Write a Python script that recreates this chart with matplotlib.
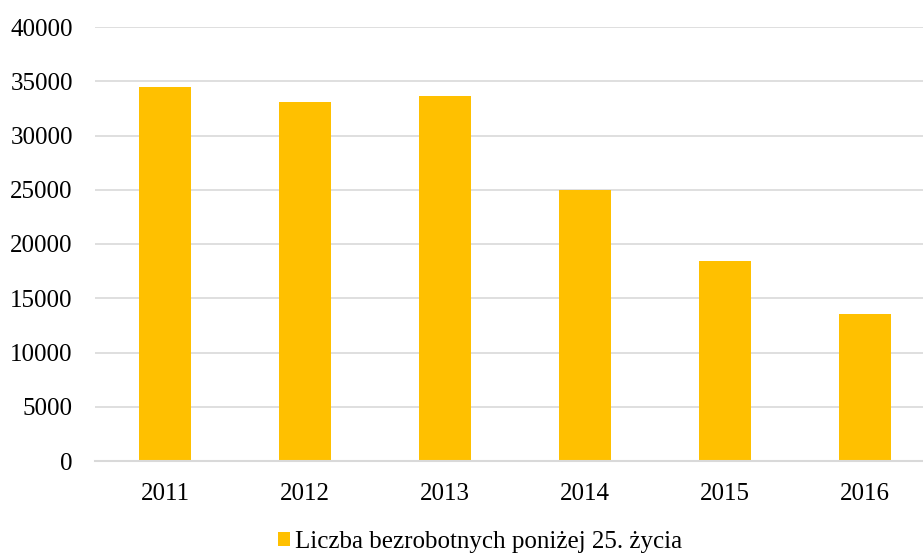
import matplotlib
matplotlib.use("Agg")
import matplotlib.pyplot as plt
from matplotlib.patches import Patch

years = ["2011", "2012", "2013", "2014", "2015", "2016"]
values = [34500, 33100, 33600, 25000, 18450, 13550]
series_name = "Liczba bezrobotnych poniżej 25. życia"
yticks = [0, 5000, 10000, 15000, 20000, 25000, 30000, 35000, 40000]

plt.rcParams['font.family'] = ['Liberation Serif', 'DejaVu Serif']

W, H = 923, 555
fig = plt.figure(figsize=(W / 100, H / 100), dpi=100)
ax = fig.add_axes([95 / W, (H - 461) / H, 840 / W, 434 / H])

color = "#FFC000"
x = list(range(len(years)))
ax.bar(x, values, width=0.367, color=color, zorder=3)

ax.set_xlim(-0.5, len(years) - 0.5)
ax.set_ylim(0, 40000)
ax.set_yticks(yticks)
ax.set_yticklabels([str(v) for v in yticks])
ax.set_xticks(x)
ax.set_xticklabels(years)

ax.grid(axis='y', color='#d9d9d9', linewidth=1.2, zorder=0)
ax.set_axisbelow(True)
for s in ['top', 'right', 'left']:
    ax.spines[s].set_visible(False)
ax.spines['bottom'].set_color('#d9d9d9')
ax.spines['bottom'].set_linewidth(1.5)
ax.spines['bottom'].set_zorder(4)

ax.tick_params(axis='y', length=0, pad=16, labelsize=18, colors='black')
ax.tick_params(axis='x', length=0, pad=15.5, labelsize=18, colors='black')

handle = Patch(facecolor=color, edgecolor='none')
fig.legend([handle], [series_name], loc='center',
           bbox_to_anchor=(480 / W, 1 - 542 / H), frameon=False,
           fontsize=18, handlelength=0.5, handleheight=0.5,
           handletextpad=0.2, borderaxespad=0, borderpad=0)

fig.savefig("out.png", dpi=100)
